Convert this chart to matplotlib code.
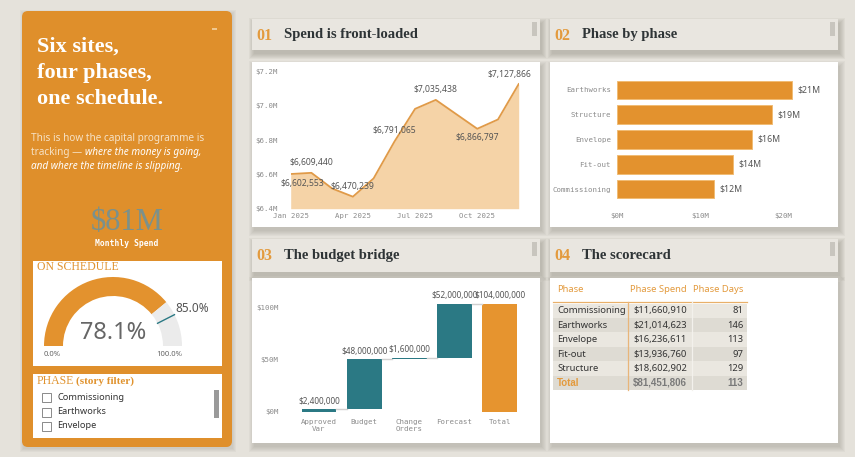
import matplotlib.pyplot as plt
import numpy as np
from matplotlib.patches import Rectangle, FancyBboxPatch, Wedge
from matplotlib.ticker import FuncFormatter

plt.rcParams['font.family'] = ['Noto Sans', 'DejaVu Sans']

W, H = 855, 457

# ---- data -------------------------------------------------------------
months = ['Jan', 'Feb', 'Mar', 'Apr', 'May', 'Jun', 'Jul', 'Aug', 'Sep', 'Oct', 'Nov', 'Dec']
monthly_spend = [6602553, 6609440, 6518000, 6470239, 6577000, 6791065,
                 6983000, 7035438, 6951000, 6866797, 6921000, 7127866]

phases = ['Commissioning', 'Earthworks', 'Envelope', 'Fit-out', 'Structure']
phase_spend = [11660910, 21014623, 16236611, 13936760, 18602902]
phase_days = [81, 146, 113, 97, 129]
total_spend = 81451806
total_days = 113

bridge_steps = ['Approved\nVar', 'Budget', 'Change\nOrders', 'Forecast']
bridge_values = [2400000, 48000000, 1600000, 52000000]

on_schedule = 78.1
schedule_target = 85.0
kpi_text = '$81M'
filter_items = ['Commissioning', 'Earthworks', 'Envelope']

# ---- colours / fonts ----------------------------------------------------
BG = '#E5E2DB'
ORANGE = '#DF8F2B'
BAR_ORANGE = '#E3922E'
TEAL = '#2B7984'
HEAD = '#E9E6E0'
DARK = '#2E3436'
TICK = '#8A8A8A'
LBL = '#555555'
SERIF = 'Liberation Serif'
MONO = 'DejaVu Sans Mono'
BOLD_SANS = 'Liberation Sans'

fig = plt.figure(figsize=(8.55, 4.57), dpi=100, facecolor=BG)

# canvas axes in pixel units, y pointing down
cv = fig.add_axes([0, 0, 1, 1], zorder=0)
cv.set_xlim(0, W)
cv.set_ylim(H, 0)
cv.axis('off')


def px_axes(x, y, w, h):
    a = fig.add_axes([x / W, 1 - (y + h) / H, w / W, h / H], zorder=2)
    a.patch.set_alpha(0)
    for s in a.spines.values():
        s.set_visible(False)
    return a


def shadow(x, y, w, h, color='#8E8A80', dx=2, dy=4, layers=6, alpha=0.07):
    for i in range(layers):
        cv.add_patch(Rectangle((x + dx - i, y + dy - i), w + 2 * i, h + 2 * i,
                               fc=color, ec='none', alpha=alpha, zorder=1))


def box(x, y, w, h, fc, sh='#8E8A80', alpha=0.07):
    shadow(x, y, w, h, color=sh, alpha=alpha)
    cv.add_patch(Rectangle((x, y), w, h, fc=fc, ec='none', zorder=2))


# ---- left story panel ---------------------------------------------------
shadow(22, 11, 210, 436, color='#8E8A80', dx=1, dy=2, layers=4)
cv.add_patch(FancyBboxPatch((22, 11), 210, 436, boxstyle='round,pad=0,rounding_size=6',
                            fc=ORANGE, ec='none', zorder=2))
OSH = '#7A4408'
box(33, 25, 189, 95, ORANGE, OSH, 0.1)
for yy, line in zip([47, 73, 99], ['Six sites,', 'four phases,', 'one schedule.']):
    cv.text(37, yy, line, color='white', family=SERIF, weight='bold', fontsize=16,
            va='center', ha='left', zorder=3)
cv.add_patch(Rectangle((212, 28), 5, 2, fc='#F0C890', ec='none', zorder=3))

box(28, 128, 194, 55, ORANGE, OSH, 0.1)
cv.text(31, 139, 'This is how the capital programme is', color='#F6E2C6', fontsize=7.2,
        va='center', zorder=3)
t1 = cv.text(31, 153, 'tracking \u2014 ', color='#F6E2C6', fontsize=7.2, va='center', zorder=3)
cv.annotate('where the money is going,', xy=(1, 0.5), xycoords=t1, va='center', ha='left',
            color='white', fontsize=7.2, style='italic', zorder=3)
cv.text(31, 167, 'and where the timeline is slipping.', color='white', fontsize=7.2,
        style='italic', va='center', zorder=3)

box(32, 193, 190, 60, ORANGE, OSH, 0.1)
cv.text(127, 222, kpi_text, color='#7A918C', family=SERIF, fontsize=22, ha='center',
        va='center', zorder=3)
cv.text(127, 244, 'Monthly Spend', color='white', family=MONO, weight='bold', fontsize=5.8,
        ha='center', va='center', zorder=3)

# gauge card
box(33, 261, 189, 105, 'white', OSH, 0.1)
cv.text(37, 267, 'ON SCHEDULE', color='#E0932F', family=SERIF, fontsize=8.5, va='center',
        zorder=3)
gcx, gcy, r_out, r_in = 113, 346, 69, 50
split = 180 + 180 * on_schedule / 100
cv.add_patch(Wedge((gcx, gcy), r_out, 180, split, width=r_out - r_in, fc=BAR_ORANGE,
                   ec='none', zorder=3))
cv.add_patch(Wedge((gcx, gcy), r_out, split, 360, width=r_out - r_in, fc='#EBEBEB',
                   ec='none', zorder=3))
ang = np.deg2rad(180 + 180 * schedule_target / 100)
cv.plot([gcx + r_in * np.cos(ang), gcx + r_out * np.cos(ang)],
        [gcy + r_in * np.sin(ang), gcy + r_out * np.sin(ang)], color=TEAL, lw=1, zorder=4)
cv.text(192, 309, f'{schedule_target:.1f}%', color='#555555', fontsize=8.5, ha='center',
        va='center', zorder=3)
cv.text(113, 333, f'{on_schedule:.1f}%', color='#666666', fontsize=17, ha='center',
        va='center', zorder=3)
cv.text(52, 354, '0.0%', color='#666666', fontsize=5.5, ha='center', va='center', zorder=3)
cv.text(169, 354, '100.0%', color='#666666', fontsize=5.5, ha='center', va='center', zorder=3)

# slicer card
box(33, 374, 189, 64, 'white', OSH, 0.1)
cv.text(37, 381, 'PHASE', color='#E0932F', family=SERIF, fontsize=8.5, va='center', zorder=3)
cv.text(76, 381, '(story filter)', color='#E0932F', family=SERIF, weight='bold', fontsize=8,
        va='center', zorder=3)
for yy, item in zip([397, 412, 426], filter_items):
    cv.add_patch(Rectangle((42, yy - 4.5), 9, 9, fc='white', ec='#777777', lw=0.6, zorder=3))
    cv.text(57, yy, item, color='#333333', fontsize=6.6, va='center', zorder=3)
cv.add_patch(Rectangle((214, 390), 5, 28, fc='#9A9A9A', ec='none', zorder=3))

# ---- right hand headers and cards ---------------------------------------
headers = [(252, 19, 31, '01', 'Spend is front-loaded'),
           (550, 19, 31, '02', 'Phase by phase'),
           (252, 239, 33, '03', 'The budget bridge'),
           (550, 239, 33, '04', 'The scorecard')]
for hx, hy, hh, num, title in headers:
    box(hx, hy, 288, hh, HEAD, alpha=0.09)
    cv.text(hx + 4, hy + hh / 2 + 1, num, color='#E39A3D', family=SERIF, weight='bold',
            fontsize=11.5, va='center', zorder=3)
    cv.text(hx + 32, hy + hh / 2, title, color=DARK, family=SERIF, weight='bold',
            fontsize=10.5, va='center', zorder=3)
    cv.add_patch(Rectangle((hx + 280, hy + 3), 5, 14, fc='#C8C5BE', ec='none', zorder=3))

for cx, cy in [(252, 62), (550, 62), (252, 278), (550, 278)]:
    box(cx, cy, 288, 165, 'white')

# ---- 01 area chart ------------------------------------------------------
ax1 = px_axes(290.7, 71.7, 228, 137)
x = np.arange(len(months))
ax1.fill_between(x, monthly_spend, 6.4e6, color='#F5D3A7', lw=0)
ax1.plot(x, monthly_spend, color='#E09A48', lw=1.3)
ax1.set_xlim(0, 11)
ax1.set_ylim(6.4e6, 7.2e6)
ax1.set_yticks(np.arange(6.4e6, 7.21e6, 0.2e6))
ax1.yaxis.set_major_formatter(FuncFormatter(lambda v, _: f'${v / 1e6:.1f}M'))
ax1.set_xticks([0, 3, 6, 9])
ax1.set_xticklabels([f'{months[i]} 2025' for i in [0, 3, 6, 9]])
ax1.tick_params(axis='y', length=0, pad=9, labelsize=5.3, labelcolor=TICK, labelfontfamily=MONO)
ax1.tick_params(axis='x', length=0, pad=3, labelsize=5.3, labelcolor=TICK, labelfontfamily=MONO)
label_offsets = {0: (8.4, -6.5), 1: (0, 7.2), 3: (0, 7), 5: (0, 8), 7: (0, 7.2),
                 9: (0, -6), 11: (-6.8, 7)}
for i, (dx, dy) in label_offsets.items():
    ax1.annotate(f'${monthly_spend[i]:,}', (x[i], monthly_spend[i]), xytext=(dx, dy),
                 textcoords='offset points', ha='center', va='center', fontsize=6.2,
                 color=LBL, annotation_clip=False)

# ---- 02 horizontal bars -------------------------------------------------
ax2 = px_axes(617, 77.6, 200, 123.8)
order = np.argsort(phase_spend)
vals = [phase_spend[i] for i in order]
ax2.barh(np.arange(len(vals)), vals, height=0.76, color=BAR_ORANGE, edgecolor='#F0BC74', lw=0.7)
ax2.set_yticks(np.arange(len(vals)))
ax2.set_yticklabels([phases[i] for i in order])
for yi, v in enumerate(vals):
    ax2.annotate(f'${v / 1e6:.0f}M', (v, yi), xytext=(4, 0), textcoords='offset points',
                 ha='left', va='center', fontsize=6.3, color=LBL)
ax2.set_xlim(0, 24e6)
ax2.set_ylim(-0.5, len(vals) - 0.5)
ax2.set_xticks([0, 10e6, 20e6])
ax2.xaxis.set_major_formatter(FuncFormatter(lambda v, _: f'${v / 1e6:.0f}M'))
ax2.tick_params(axis='y', length=0, pad=4.3, labelsize=5.3, labelcolor=TICK, labelfontfamily=MONO)
ax2.tick_params(axis='x', length=0, pad=8.5, labelsize=5.3, labelcolor=TICK, labelfontfamily=MONO)

# ---- 03 waterfall -------------------------------------------------------
ax3 = px_axes(296.4, 295.2, 226, 116.5)
steps = np.array(bridge_values)
ends = np.cumsum(steps)
starts = ends - steps
bw = 0.77
ax3.bar(np.arange(len(steps)), steps, bottom=starts, width=bw, color=TEAL)
ax3.bar(len(steps), ends[-1], width=bw, color='#E6942F')
for i in range(len(steps)):
    ax3.plot([i + bw / 2, i + 1 - bw / 2], [ends[i], ends[i]], color='#D0D0D0', lw=1)
tops = list(ends) + [ends[-1]]
texts = [f'${v:,}' for v in steps] + [f'${ends[-1]:,}']
for i, (t, s) in enumerate(zip(tops, texts)):
    ax3.annotate(s, (i, t), xytext=(0, 2.5), textcoords='offset points', ha='center',
                 va='bottom', fontsize=5.9, color=LBL, annotation_clip=False)
ax3.set_xlim(-0.5, len(steps) + 0.5)
ax3.set_ylim(0, 112e6)
ax3.set_xticks(np.arange(len(steps) + 1))
ax3.set_xticklabels(bridge_steps + ['Total'])
ax3.set_yticks([0, 50e6, 100e6])
ax3.yaxis.set_major_formatter(FuncFormatter(lambda v, _: f'${v / 1e6:.0f}M'))
ax3.tick_params(axis='y', length=0, pad=13, labelsize=5.3, labelcolor=TICK, labelfontfamily=MONO)
ax3.tick_params(axis='x', length=0, pad=5.5, labelsize=5.3, labelcolor=TICK, labelfontfamily=MONO)

# ---- 04 scorecard table -------------------------------------------------
tx0, tx1 = 553, 747
row_h = 14.45
head_y = 290
cv.text(557, head_y, 'Phase', color='#E39A3D', fontsize=6.8, va='center', zorder=4)
cv.text(687, head_y, 'Phase Spend', color='#E39A3D', fontsize=6.8, va='center', ha='right', zorder=4)
cv.text(743, head_y, 'Phase Days', color='#E39A3D', fontsize=6.8, va='center', ha='right', zorder=4)
rows = [(p, f'${s:,}', f'{d}') for p, s, d in zip(phases, phase_spend, phase_days)]
rows.append(('Total', f'${total_spend:,}', f'{total_days}'))
top = 303.5
for r, (p, s, d) in enumerate(rows):
    y0 = top + r * row_h
    fc = '#DEDBD3' if r % 2 == 1 else '#EAE7E0'
    cv.add_patch(Rectangle((tx0, y0), tx1 - tx0, row_h, fc=fc, ec='none', zorder=3))
    yc = y0 + row_h / 2
    if p == 'Total':
        cv.text(557, yc, p, color='#E39A3D', family=BOLD_SANS, weight='bold', fontsize=7,
                va='center', zorder=4)
        cv.text(687, yc, s, color='#7A7A7A', family=BOLD_SANS, weight='bold', fontsize=7,
                va='center', ha='right', zorder=4)
        cv.text(743, yc, d, color='#7A7A7A', family=BOLD_SANS, weight='bold', fontsize=7,
                va='center', ha='right', zorder=4)
    else:
        cv.text(557, yc, p, color='#333333', fontsize=6.8, va='center', zorder=4)
        cv.text(687, yc, s, color='#333333', fontsize=6.8, va='center', ha='right', zorder=4)
        cv.text(743, yc, d, color='#333333', fontsize=6.8, va='center', ha='right', zorder=4)
tbl_bottom = top + len(rows) * row_h
cv.plot([tx0, tx1], [302, 302], color='#E8B06A', lw=0.9, zorder=4)
cv.plot([627.7, 627.7], [302, tbl_bottom], color='#E8B57A', lw=0.9, zorder=4)
cv.plot([691.7, 691.7], [302, tbl_bottom], color='#F3F1EC', lw=0.9, zorder=4)

fig.savefig('out.png', dpi=100, facecolor=BG)
